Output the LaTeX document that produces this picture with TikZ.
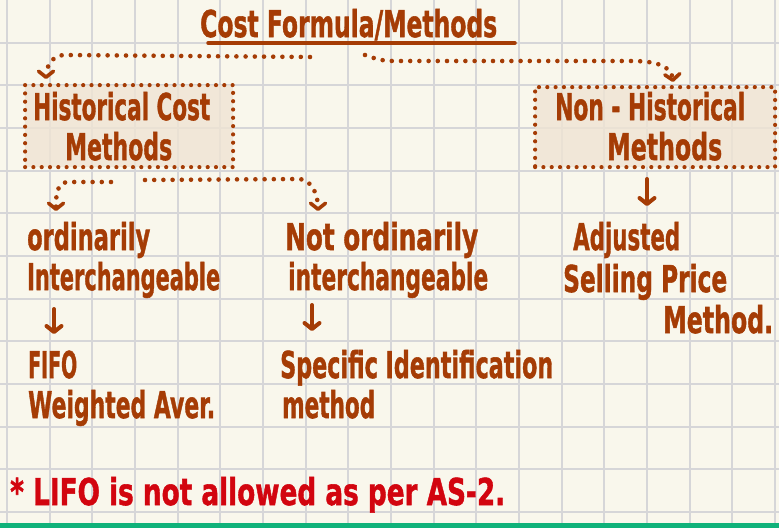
\documentclass[tikz,border=0pt]{standalone}
\usepackage{fontspec}
\setmainfont{DejaVu Sans}[BoldFeatures={FakeBold=1.5}]
\usetikzlibrary{arrows.meta}
\definecolor{ink}{RGB}{165,60,5}
\definecolor{redink}{RGB}{210,5,15}
\definecolor{paper}{RGB}{249,247,236}
\definecolor{gridc}{RGB}{214,214,216}
\definecolor{boxfill}{RGB}{240,228,212}
\definecolor{barc}{RGB}{16,178,122}
\newcommand{\fitw}[2]{\resizebox{#1pt}{\height}{#2}}
\begin{document}
\begin{tikzpicture}[x=1pt,y=-1pt,
  hand/.style={font=\bfseries\fontsize{37}{40}\selectfont, text=ink, inner sep=0pt, anchor=base west},
  redhand/.style={hand, text=redink},
  dotbox/.style={draw=ink, line width=4.2pt, line cap=round, dash pattern=on 0pt off 8.3pt, fill=boxfill, fill opacity=0.8, draw opacity=1, inner sep=0pt, anchor=north west},
  dotlink/.style={draw=ink, line width=4.6pt, line cap=round, dash pattern=on 0pt off 9.2pt, -{Straight Barb[length=6pt,width=15pt,round,line width=3.6pt]}},
  downarrow/.style={draw=ink, line width=4pt, line cap=round, -{Straight Barb[length=6pt,width=15pt,round]}},
  gridline/.style={draw=gridc, line width=2pt}
]
\useasboundingbox (0,0) rectangle (779,528);
\fill[paper] (0,0) rectangle (779,528);
\foreach \i in {0,...,18} \draw[gridline] ({7+42.67*\i},0) -- ({7+42.67*\i},528);
\foreach \j in {1,...,12} \draw[gridline] (0,{42.67*\j}) -- (779,{42.67*\j});
\fill[barc] (0,523) rectangle (779,528);

% title
\node[hand] (title) at (200,37) {\fitw{297}{Cost Formula/Methods}};
\coordinate (ulA) at (208,43);
\coordinate (ulB) at (515,43);
\draw[draw=ink, line width=3.5pt, line cap=round] (ulA) -- (ulB);

% boxes
\node[dotbox, minimum width=208pt, minimum height=82pt] (histbox) at (23,83) {};
\node[dotbox, minimum width=240pt, minimum height=80pt] (nonbox) at (533,85) {};
\node[hand] (hist1) at (33,120) {\fitw{177}{Historical Cost}};
\node[hand] (hist2) at (65,160) {\fitw{107}{Methods}};
\node[hand] (non1) at (555,120) {\fitw{190}{Non - Historical}};
\node[hand] (non2) at (607,160) {\fitw{115}{Methods}};

% connectors from title
\coordinate (c1a) at (310,57);
\coordinate (c1b) at (64,55);
\coordinate (c1c) at (46,79);
\draw[dotlink] (c1a) -- (c1b) to[out=180,in=90] (c1c);
\coordinate (c2a) at (365,55);
\coordinate (c2b) at (394,61);
\coordinate (c2c) at (632,61);
\coordinate (c2d) at (673,82);
\draw[dotlink] (c2a) to[out=-20,in=180] (c2b) -- (c2c) to[out=0,in=95] (c2d);

% connectors from historical box
\coordinate (c3a) at (111,182);
\coordinate (c3b) at (68,182);
\coordinate (c3c) at (56,211);
\draw[dotlink] (c3a) -- (c3b) to[out=180,in=90] (c3c);
\coordinate (c4a) at (145,180);
\coordinate (c4b) at (298,179);
\coordinate (c4c) at (318,211);
\draw[dotlink] (c4a) -- (c4b) to[out=0,in=90] (c4c);

% non-historical down arrow
\coordinate (a3s) at (647,179);
\coordinate (a3e) at (647,206);
\draw[downarrow] (a3s) -- (a3e);

% left column
\node[hand] (oi1) at (27,250) {\fitw{123}{ordinarily}};
\node[hand] (oi2) at (27,290) {\fitw{193}{Interchangeable}};
\coordinate (a1s) at (54,309);
\coordinate (a1e) at (54,334);
\draw[downarrow] (a1s) -- (a1e);
\node[hand] (fifo) at (28,378) {\fitw{49}{FIFO}};
\node[hand] (wavg) at (28,418) {\fitw{187}{Weighted Aver.}};

% middle column
\node[hand] (noi1) at (285,250) {\fitw{193}{Not ordinarily}};
\node[hand] (noi2) at (288,290) {\fitw{200}{interchangeable}};
\coordinate (a2s) at (312,305);
\coordinate (a2e) at (312,331);
\draw[downarrow] (a2s) -- (a2e);
\node[hand] (spec1) at (280,378) {\fitw{273}{Specific Identification}};
\node[hand] (spec2) at (282,418) {\fitw{93}{method}};

% right column
\node[hand] (adj1) at (573,250) {\fitw{107}{Adjusted}};
\node[hand] (adj2) at (563,292) {\fitw{164}{Selling Price}};
\node[hand] (adj3) at (663,333) {\fitw{110}{Method.}};

% note
\node[redhand] (note) at (10,505) {\fitw{495}{* LIFO is not allowed as per AS-2.}};
\end{tikzpicture}
\end{document}
